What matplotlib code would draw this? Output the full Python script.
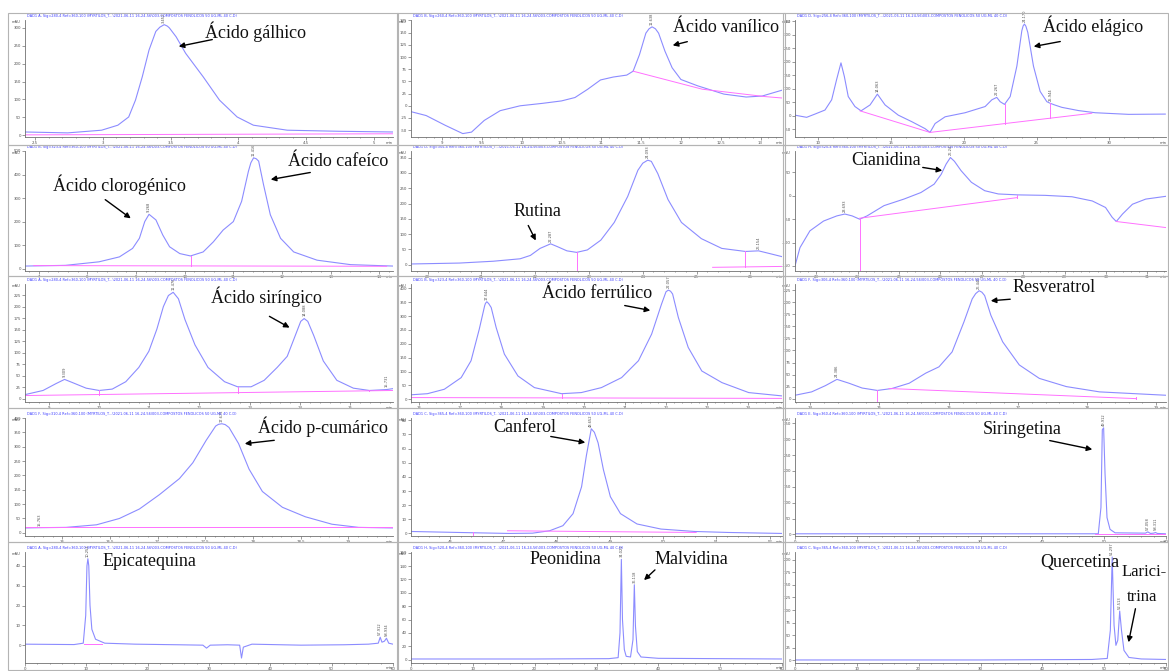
import matplotlib.pyplot as plt
from matplotlib.patches import Rectangle, FancyArrowPatch
from matplotlib.ticker import MultipleLocator, FuncFormatter

# ---- chromatogram traces (retention time in min, absorbance in mAU) ----
t_galhico = [2.425, 2.74, 2.99, 3.11, 3.19, 3.24, 3.29, 3.34, 3.39, 3.42, 3.452, 3.475, 3.49, 3.54, 3.61, 3.74, 3.86, 3.99, 4.11, 4.36, 4.74, 5.14]
y_galhico = [9, 6.5, 14, 28, 51, 98, 163, 238, 290, 302, 309, 305, 300, 275, 229, 163, 98, 51, 28, 14, 11, 9]

t_vanilico = [8.61, 8.8, 9.04, 9.26, 9.37, 9.53, 9.73, 9.98, 10.26, 10.5, 10.67, 10.83, 10.99, 11.15, 11.32, 11.4, 11.48, 11.56, 11.6, 11.638, 11.68, 11.72, 11.8, 11.89, 12.0, 12.21, 12.54, 12.82, 13.02, 13.27]
y_vanilico = [-12, -20, -40, -57, -54, -30, -10, 0, 5, 10, 17, 34, 53, 59, 63, 71, 105, 149, 158, 162, 158, 149, 112, 78, 54, 41, 24, 18, 20, 32]

t_elagico = [8.39, 9.2, 9.77, 10.46, 10.92, 11.26, 11.56, 11.79, 12.06, 12.52, 12.94, 13.56, 14.063, 14.59, 15.5, 16.42, 17.34, 17.68, 18.03, 18.72, 20.09, 21.47, 21.93, 22.267, 22.5, 22.8, 23.19, 23.65, 23.99, 24.08, 24.17, 24.27, 24.4, 24.79, 25.25, 25.71, 25.944, 26.24, 26.74, 27.89, 29.04, 31.33, 33.85]
y_elagico = [2, -6, 6, 21, 59, 134, 196, 146, 71, 34, 18, 40, 80, 40, 2, -22, -48, -62, -29, -4, 11, 34, 59, 68, 52, 42, 71, 184, 315, 333, 340, 332, 309, 184, 90, 52, 46, 40, 31, 19, 11, 5, 6]

t_cafeico = [6.72, 7.55, 8.24, 8.66, 8.93, 9.07, 9.18, 9.268, 9.41, 9.55, 9.69, 9.9, 10.12, 10.38, 10.59, 10.79, 11.0, 11.17, 11.31, 11.36, 11.416, 11.47, 11.52, 11.62, 11.76, 11.97, 12.24, 12.72, 13.41, 14.28]
y_cafeico = [11, 14, 29, 50, 86, 129, 200, 231, 207, 143, 93, 64, 54, 71, 114, 164, 200, 286, 414, 450, 471, 467, 457, 357, 229, 129, 71, 36, 17, 11]

t_rutina = [19.69, 20.59, 21.22, 21.72, 21.91, 22.09, 22.287, 22.41, 22.59, 22.77, 22.97, 23.22, 23.47, 23.72, 23.91, 24.0, 24.093, 24.16, 24.28, 24.47, 24.72, 25.09, 25.47, 25.91, 26.154, 26.34, 26.59]
y_rutina = [2, 5, 11, 19, 30, 53, 68, 59, 45, 40, 48, 80, 138, 223, 309, 332, 342, 338, 298, 213, 138, 85, 53, 43, 45, 37, 26]

t_cianidina = [22.49, 22.61, 22.85, 23.18, 23.5, 23.693, 23.87, 24.05, 24.23, 24.64, 25.12, 25.53, 25.85, 26.02, 26.14, 26.243, 26.34, 26.5, 26.75, 27.07, 27.4, 27.88, 28.53, 29.18, 29.67, 29.99, 30.15, 30.25, 30.4, 30.64, 30.96, 31.45]
y_cianidina = [-150, -111, -75, -54, -43, -39, -43, -50, -43, -21, -7, 7, 25, 46, 68, 82, 74, 54, 29, 11, 4, 2, 1, -2, -11, -25, -46, -55, -39, -18, -7, -1]

t_siringico = [8.52, 8.88, 9.14, 9.309, 9.47, 9.74, 10.0, 10.26, 10.53, 10.79, 10.99, 11.15, 11.28, 11.38, 11.476, 11.58, 11.71, 11.91, 12.17, 12.5, 12.76, 13.03, 13.29, 13.55, 13.75, 13.91, 14.02, 14.088, 14.16, 14.28, 14.47, 14.74, 15.07, 15.39, 15.731, 15.86]
y_siringico = [9, 18, 33, 42, 35, 23, 18, 21, 37, 68, 103, 151, 200, 224, 231, 217, 172, 117, 68, 37, 26, 26, 40, 68, 92, 137, 168, 174, 168, 137, 82, 40, 23, 18, 20, 22]

t_ferrulico = [15.8, 16.2, 16.61, 17.02, 17.26, 17.46, 17.59, 17.61, 17.644, 17.69, 17.75, 17.87, 18.07, 18.4, 18.8, 19.46, 19.94, 20.43, 20.92, 21.33, 21.65, 21.89, 22.0, 22.057, 22.11, 22.16, 22.3, 22.54, 22.87, 23.36, 24.01, 24.82]
y_ferrulico = [16, 20, 36, 78, 139, 253, 337, 346, 352, 345, 331, 259, 163, 84, 42, 20, 24, 42, 78, 139, 235, 343, 388, 394, 390, 380, 295, 187, 102, 60, 24, 12]

t_resveratrol = [23.78, 24.02, 24.22, 24.386, 24.56, 24.75, 24.97, 25.18, 25.43, 25.67, 25.86, 26.05, 26.22, 26.34, 26.39, 26.44, 26.48, 26.52, 26.61, 26.78, 27.02, 27.31, 27.7, 28.18, 29.14]
y_resveratrol = [7, 14, 27, 40, 32, 22, 17, 21, 32, 53, 66, 97, 159, 207, 218, 224, 221, 214, 173, 118, 70, 42, 25, 14, 7]

t_cumarico = [15.61, 15.763, 16.04, 16.36, 16.6, 16.81, 17.02, 17.23, 17.37, 17.51, 17.61, 17.64, 17.675, 17.71, 17.75, 17.85, 17.96, 18.1, 18.31, 18.55, 18.83, 19.11, 19.47]
y_cumarico = [17, 18, 19, 28, 50, 83, 133, 189, 244, 322, 372, 378, 380, 377, 367, 311, 222, 144, 89, 56, 30, 19, 17]

t_canferol = [45.27, 46.16, 47.11, 47.55, 47.87, 48.12, 48.31, 48.47, 48.56, 48.652, 48.71, 48.78, 48.88, 49.01, 49.2, 49.51, 49.96, 50.59, 51.22, 52.23]
y_canferol = [1.4, 0.7, 0.0, 0.2, 1.9, 5.5, 14, 33, 55, 74, 71.5, 64, 45, 26, 14, 6.7, 3.1, 1.4, 0.7, 0.0]

t_siringetina = [0, 24, 49.05, 49.48, 49.7, 49.912, 50.14, 50.46, 50.95, 51.77, 56.68, 57.058, 57.49, 58.0, 58.311, 58.6, 59.9]
y_siringetina = [2, 2, 2, 85, 330, 336, 192, 53, 16, 5, 4, 8, 3, 4, 6, 3, 2]

t_epicatequina = [0, 8, 9.5, 9.9, 10.1, 10.254, 10.4, 10.6, 10.9, 11.5, 13, 18, 25, 29, 29.6, 30.2, 33, 35, 35.3, 35.6, 37, 45, 52, 56, 57.6, 57.912, 58.2, 58.6, 58.934, 59.3, 60]
y_epicatequina = [0.5, 0.3, 1, 15, 40, 43.6, 40, 20, 8, 3, 1, 0.5, 0.2, 0, -1.5, 0, 0.2, 0, -6.5, -1, 0.5, 0, 0.2, 0.5, 1, 4, 1.5, 2, 3.5, 1, 0.5]

t_peonidina = [0, 20, 32, 33.5, 33.8, 34.021, 34.2, 34.5, 34.8, 35.5, 35.9, 36.118, 36.3, 36.6, 37.2, 40, 50, 60]
y_peonidina = [1, 1, 1.5, 3, 40, 150, 60, 15, 5, 4, 30, 112, 50, 12, 4, 2, 1.5, 1]

t_quercetina = [0, 30, 48, 50.5, 51.0, 51.297, 51.6, 51.9, 52.2, 52.513, 52.8, 53.2, 54, 56, 60]
y_quercetina = [1, 1, 2, 4, 60, 205, 70, 30, 40, 98, 60, 20, 6, 3, 2]

# integration baselines and drop lines
base_galhico = [([2.43, 5.14], [1, 4])]
base_vanilico = [([11.4, 12.27, 13.05, 13.27], [71, 34, 19, 16])]
base_elagico = [([12.87, 17.68, 28.8], [18, -62, 9])]
drop_elagico = [(22.8, 42, -29), (25.944, 46, -9)]
base_cafeico = [([6.9, 14.15], [13, 10])]
drop_cafeico = [(10.12, 54, 12)]
base_rutina = [([25.3, 26.59], [-9, -6])]
drop_rutina = [(22.77, 40, -21), (25.91, 43, -8)]
base_cianidina = [([24.05, 27.84], [-48, -4]), ([30.25, 31.45], [-55, -68])]
drop_cianidina = [(24.05, -50, -161), (27.84, -4, 2)]
base_siringico = [([8.52, 15.86], [7, 18])]
drop_siringico = [(10.0, 18, 9), (12.76, 26, 13), (15.39, 18, 17)]
base_ferrulico = [([15.8, 24.82], [6, 3])]
drop_ferrulico = [(19.46, 20, 5)]
base_resveratrol = [([25.14, 28.71], [21, 0])]
drop_resveratrol = [(24.97, 17, -7), (28.71, 0, 3)]
base_cumarico = [([15.61, 19.47], [19, 19])]
base_canferol = [([47.08, 50.62], [1.9, 0.7])]
drop_canferol = [(46.44, 0.7, -1.8)]
base_siringetina = [([48.5, 59.9], [0, 0])]
base_epicatequina = [([9.6, 12.5], [0.6, 0.6])]

# retention times labelled above peaks
rt_galhico = [3.452]
rt_vanilico = [11.638]
rt_elagico = [14.063, 22.267, 24.17, 25.944]
rt_cafeico = [9.268, 11.416]
rt_rutina = [22.287, 24.093, 26.154]
rt_cianidina = [23.693, 26.243]
rt_siringico = [9.309, 11.476, 14.088, 15.731]
rt_ferrulico = [17.644, 22.057]
rt_resveratrol = [24.386, 26.44]
rt_cumarico = [15.763, 17.675]
rt_canferol = [48.652]
rt_siringetina = [49.912, 57.058, 58.311]
rt_epicatequina = [10.254, 57.912, 58.934]
rt_peonidina = [34.021, 36.118]
rt_quercetina = [51.297, 52.513]

W, H = 1169, 671
TRACE = '#8c8cff'
BASE = '#ff70ff'

# panel frames / axes boxes in pixels
col_frame = [(8, 398), (397, 785), (783, 1168)]
col_axes = [(25, 393), (411, 782), (795, 1166)]
row_frame = [(13, 145), (145, 276), (276, 408), (408, 542), (542, 670)]
row_axes = [(20, 137), (151, 271), (284, 402), (418, 536), (552, 663)]

panels = [
    dict(t=t_galhico, y=y_galhico, pos=(0, 0), xlim=(2.425, 5.14), ylim=(-5, 322), xs=0.5, ys=50, base=base_galhico, drops=[], rt=rt_galhico, sig='DAD1 A, Sig=280,4'),
    dict(t=t_vanilico, y=y_vanilico, pos=(0, 1), xlim=(8.61, 13.27), ylim=(-64, 176), xs=0.5, ys=25, base=base_vanilico, drops=[], rt=rt_vanilico, sig='DAD1 B, Sig=260,4'),
    dict(t=t_elagico, y=y_elagico, pos=(0, 2), xlim=(8.4, 33.9), ylim=(-79, 355), xs=5, ys=50, base=base_elagico, drops=drop_elagico, rt=rt_elagico, sig='DAD1 D, Sig=256,4'),
    dict(t=t_cafeico, y=y_cafeico, pos=(1, 0), xlim=(6.72, 14.28), ylim=(-10, 500), xs=1, ys=100, base=base_cafeico, drops=drop_cafeico, rt=rt_cafeico, sig='DAD1 B, Sig=323,4'),
    dict(t=t_rutina, y=y_rutina, pos=(1, 1), xlim=(19.69, 26.59), ylim=(-21, 372), xs=1, ys=50, base=base_rutina, drops=drop_rutina, rt=rt_rutina, sig='DAD1 D, Sig=355,4'),
    dict(t=t_cianidina, y=y_cianidina, pos=(1, 2), xlim=(22.49, 31.45), ylim=(-161, 96), xs=1, ys=50, base=base_cianidina, drops=drop_cianidina, rt=rt_cianidina, sig='DAD1 H, Sig=520,4'),
    dict(t=t_siringico, y=y_siringico, pos=(2, 0), xlim=(8.52, 15.86), ylim=(-7, 249), xs=1, ys=25, base=base_siringico, drops=drop_siringico, rt=rt_siringico, sig='DAD1 A, Sig=280,4'),
    dict(t=t_ferrulico, y=y_ferrulico, pos=(2, 1), xlim=(15.8, 24.82), ylim=(-10, 416), xs=1, ys=50, base=base_ferrulico, drops=drop_ferrulico, rt=rt_ferrulico, sig='DAD1 B, Sig=323,4'),
    dict(t=t_resveratrol, y=y_resveratrol, pos=(2, 2), xlim=(23.78, 29.14), ylim=(-7, 238), xs=1, ys=25, base=base_resveratrol, drops=drop_resveratrol, rt=rt_resveratrol, sig='DAD1 F, Sig=306,4'),
    dict(t=t_cumarico, y=y_cumarico, pos=(3, 0), xlim=(15.61, 19.47), ylim=(-11, 400), xs=0.5, ys=50, base=base_cumarico, drops=[], rt=rt_cumarico, sig='DAD1 F, Sig=310,4'),
    dict(t=t_canferol, y=y_canferol, pos=(3, 1), xlim=(45.27, 52.23), ylim=(-1.8, 81.6), xs=1, ys=10, base=base_canferol, drops=drop_canferol, rt=rt_canferol, sig='DAD1 C, Sig=365,4'),
    dict(t=t_siringetina, y=y_siringetina, pos=(3, 2), xlim=(0, 60), ylim=(-5, 367), xs=10, ys=50, base=base_siringetina, drops=[], rt=rt_siringetina, sig='DAD1 E, Sig=360,4'),
    dict(t=t_epicatequina, y=y_epicatequina, pos=(4, 0), xlim=(0, 60), ylim=(-9, 47), xs=10, ys=10, base=base_epicatequina, drops=[], rt=rt_epicatequina, sig='DAD1 A, Sig=280,4'),
    dict(t=t_peonidina, y=y_peonidina, pos=(4, 1), xlim=(0, 60), ylim=(-5, 161), xs=10, ys=20, base=[], drops=[], rt=rt_peonidina, sig='DAD1 H, Sig=520,4'),
    dict(t=t_quercetina, y=y_quercetina, pos=(4, 2), xlim=(0, 60), ylim=(-5, 215), xs=10, ys=25, base=[], drops=[], rt=rt_quercetina, sig='DAD1 C, Sig=365,4'),
]

# compound names: text, left x, centre y, font size, arrow start, arrow tip (pixels)
names = [
    ('Ácido gálhico', 205, 32, 13, (215, 39), (176, 47)),
    ('Ácido vanílico', 673, 27, 13, (690, 41), (670, 46)),
    ('Ácido elágico', 1043, 26, 13, (1063, 41), (1031, 47)),
    ('Ácido clorogénico', 53, 185, 13, (103, 198), (133, 220)),
    ('Ácido cafeíco', 288, 162, 13, (313, 172), (268, 180)),
    ('Rutina', 514, 212, 13, (527, 223), (537, 243)),
    ('Cianidina', 851, 161, 13, (920, 167), (945, 171)),
    ('Ácido siríngico', 211, 297, 13, (267, 315), (292, 329)),
    ('Ácido ferrúlico', 542, 294, 13, (622, 305), (653, 311)),
    ('Resveratrol', 1013, 287, 13, (1013, 299), (988, 301)),
    ('Ácido p-cumárico', 258, 427, 13, (277, 440), (242, 444)),
    ('Canferol', 493, 427, 13, (548, 436), (588, 443)),
    ('Siringetina', 983, 430, 13, (1047, 440), (1095, 450)),
    ('Epicatequina', 103, 562, 13, None, None),
    ('Peonidina', 530, 560, 13, None, None),
    ('Malvidina', 655, 560, 13, (657, 568), (642, 582)),
    ('Quercetina', 1040, 562, 13, None, None),
    ('Larici-', 1122, 572, 12, None, None),
    ('trina', 1127, 597, 12, (1136, 606), (1128, 645)),
]


def fig_box(l, t, r, b):
    return [l / W, 1 - b / H, (r - l) / W, (b - t) / H]


def fig_pt(x, y):
    return (x / W, 1 - y / H)


fig = plt.figure(figsize=(W / 100, H / 100), dpi=100)
fig.patch.set_facecolor('white')

fmt = FuncFormatter(lambda v, p: '{:g}'.format(round(v, 3)))

for p in panels:
    r, c = p['pos']
    fl, fr = col_frame[c]
    ft, fb = row_frame[r]
    fig.add_artist(Rectangle(fig_pt(fl, fb), (fr - fl) / W, (fb - ft) / H,
                             transform=fig.transFigure, fill=False,
                             ec='#b4b4b4', lw=0.8))
    al, ar = col_axes[c]
    at, ab = row_axes[r]
    ax = fig.add_axes(fig_box(al, at, ar, ab))
    ax.patch.set_alpha(0)
    for s in ('top', 'right'):
        ax.spines[s].set_visible(False)
    for s in ('left', 'bottom'):
        ax.spines[s].set_color('#707070')
        ax.spines[s].set_linewidth(0.6)

    ax.plot(p['t'], p['y'], color=TRACE, lw=0.8)
    for bt, by in p['base']:
        ax.plot(bt, by, color=BASE, lw=0.7)
    for dx, d0, d1 in p['drops']:
        ax.plot([dx, dx], [d0, d1], color=BASE, lw=0.7)
    for rt in p['rt']:
        ya = p['y'][p['t'].index(rt)]
        ax.annotate('{:.3f}'.format(rt), (rt, ya), xytext=(0, 1.5),
                    textcoords='offset points', rotation=90, ha='center',
                    va='bottom', fontsize=2.6, color='#505050')

    ax.set_xlim(*p['xlim'])
    ax.set_ylim(*p['ylim'])
    ax.xaxis.set_major_locator(MultipleLocator(p['xs']))
    ax.xaxis.set_minor_locator(MultipleLocator(p['xs'] / 5))
    ax.yaxis.set_major_locator(MultipleLocator(p['ys']))
    ax.xaxis.set_major_formatter(fmt)
    ax.yaxis.set_major_formatter(fmt)
    ax.tick_params(which='both', labelsize=2.8, colors='#505050', width=0.4,
                   pad=1.0)
    ax.tick_params(which='major', length=2)
    ax.tick_params(which='minor', length=1)
    ax.text(-0.012, 1.0, 'mAU', transform=ax.transAxes, ha='right', va='top',
            fontsize=2.6, color='#505050')
    ax.text(1.0, -0.03, 'min', transform=ax.transAxes, ha='right', va='top',
            fontsize=2.6, color='#505050')
    ax.text(0.005, 1.02, p['sig'] + ' Ref=360,100 (MYRTILOS_T...\\2021-06-11 '
            '16-24-56\\003-COMPOSTOS FENOLICOS 50 UG-ML 40 C.D)',
            transform=ax.transAxes, ha='left', va='bottom', fontsize=2.5,
            color='#3a3aff')

for text, x, y, size, a0, a1 in names:
    fig.text(*fig_pt(x, y), text, ha='left', va='center',
             family=['Liberation Serif', 'DejaVu Serif'], fontsize=size,
             color='#111111')
    if a0 is not None:
        fig.add_artist(FancyArrowPatch(fig_pt(*a0), fig_pt(*a1),
                                       transform=fig.transFigure,
                                       arrowstyle='-|>', mutation_scale=8,
                                       lw=1.0, color='black'))

fig.savefig('out.png', dpi=100, facecolor='white')
